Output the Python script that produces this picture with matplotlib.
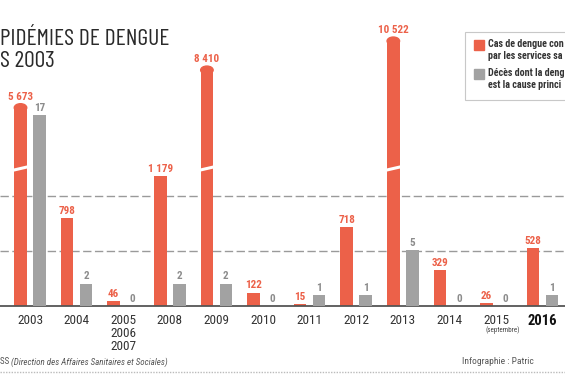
import numpy as np
import matplotlib.pyplot as plt
from matplotlib import font_manager
from matplotlib.patches import Ellipse, Rectangle
from matplotlib.lines import Line2D

W, H = 565, 377


def fx(px):
    return px / W


def fy(py):
    return 1 - py / H


# --- Données ---
annees = ["2003", "2004", "2005\n2006\n2007", "2008", "2009", "2010",
          "2011", "2012", "2013", "2014", "2015", "2016"]
cas = [5673, 798, 46, 1179, 8410, 122, 15, 718, 10522, 329, 26, 528]
deces = [17, 2, 0, 2, 2, 0, 1, 1, 5, 0, 0, 1]
grille_cas = [500, 1000]

ROUGE = "#EC6149"
GRIS = "#A2A2A2"
COUPURE = 1250      # au-dessus : barre coupée et écrasée
ECRASEMENT = 0.125
Y_MAX = 2782


def hauteur_affichee(v):
    return v if v <= COUPURE else COUPURE + (v - COUPURE) * ECRASEMENT


def format_nb(v):
    return f"{v:,}".replace(",", " ")


def choisir(candidats):
    installees = {f.name for f in font_manager.fontManager.ttflist}
    for cand in candidats:
        if cand in installees:
            return cand
    return "DejaVu Sans"


police = choisir(["Roboto Condensed", "Archivo Narrow", "PT Sans Narrow", "Liberation Sans"])
police_titre = choisir(["Barlow Condensed", "Roboto Condensed", "Liberation Sans"])
plt.rcParams["font.family"] = [police, "DejaVu Sans"]

fig = plt.figure(figsize=(W / 100, H / 100), dpi=100)
ax = fig.add_axes([0, fy(306), 1, 306 / H])
ax.set_xlim(-0.644, 11.48)
ax.set_ylim(0, Y_MAX)
ax2 = ax.twinx()
ax2.set_ylim(0, 27.3)

for a in (ax, ax2):
    for s in a.spines.values():
        s.set_visible(False)
ax.set_yticks([])
ax2.set_yticks([])

x = np.arange(len(annees))
LARG = 0.268
DEC = 0.204
px_par_unite = 306 / Y_MAX
dome = 4 / px_par_unite

for g in grille_cas:
    ax.axhline(g, color="#9a9a9a", lw=1.0, ls=(0, (6, 2.5)), zorder=1)

haut = [hauteur_affichee(v) for v in cas]
ax.bar(x - DEC, haut, width=LARG, color=ROUGE, zorder=3)
ax2.bar(x + DEC, deces, width=LARG, color=GRIS, zorder=3)

for i, v in enumerate(cas):
    top = haut[i]
    if v > COUPURE:
        ax.add_patch(Ellipse((i - DEC, top), LARG, 2 * dome, color=ROUGE, zorder=3))
        top += dome
        ax.plot([i - DEC - LARG / 2 - 0.03, i - DEC + LARG / 2 + 0.03],
                [COUPURE - 16, COUPURE + 16], color="white", lw=2.2,
                solid_capstyle="butt", zorder=4)
    ax.annotate(format_nb(v), (i - DEC, top), xytext=(0, 1.5), textcoords="offset points",
                ha="center", va="bottom", color=ROUGE, fontsize=8, fontweight="bold")

for i, d in enumerate(deces):
    ax2.annotate(str(d), (i + DEC, d), xytext=(0, 1.5), textcoords="offset points",
                 ha="center", va="bottom", color="#8c8c8c", fontsize=8, fontweight="bold")

ax.axhline(0, color="#555555", lw=1.3, zorder=6, clip_on=False)

ax.set_xticks(x, annees)
ax.tick_params(axis="x", length=0, pad=6, labelsize=9.5, labelcolor="#333333")
for lab in ax.get_xticklabels():
    lab.set_linespacing(1.0)
dernier = ax.get_xticklabels()[-1]
dernier.set_fontweight("bold")
dernier.set_fontsize(10.5)
dernier.set_color("#111111")
fig.text(fx(503), fy(330), "(septembre)", ha="center", va="center", fontsize=5, color="#444444")

# --- Titre (image recadrée à gauche) ---
fig.text(0, fy(45), "PIDÉMIES DE DENGUE", ha="left", va="baseline",
         fontsize=17, color="#2a2a2a", family=police_titre)
fig.text(0, fy(67), "S 2003", ha="left", va="baseline",
         fontsize=17, color="#2a2a2a", family=police_titre)

# --- Légende (recadrée à droite) ---
fig.add_artist(Rectangle((fx(465), fy(100)), fx(130), (100 - 32) / H,
                         transform=fig.transFigure, facecolor="white",
                         edgecolor="#c8c8c8", lw=0.8))
fig.add_artist(Rectangle((fx(474), fy(50)), fx(10), 10 / H,
                         transform=fig.transFigure, color=ROUGE))
fig.add_artist(Rectangle((fx(474), fy(79)), fx(10), 10 / H,
                         transform=fig.transFigure, color=GRIS))
fig.text(fx(488), fy(39), "Cas de dengue con\npar les services sa",
         ha="left", va="top", fontsize=7.2, fontweight="bold", color="#333333", linespacing=1.2)
fig.text(fx(488), fy(68), "Décès dont la deng\nest la cause princi",
         ha="left", va="top", fontsize=7.2, fontweight="bold", color="#333333", linespacing=1.2)

# --- Pied ---
t_ss = fig.text(0, fy(362), "SS ", ha="left", va="center", fontsize=6.5, color="#555555")
ax.annotate("(Direction des Affaires Sanitaires et Sociales)", xy=(1, 0.5), xycoords=t_ss,
            ha="left", va="center", fontsize=6.5, style="italic", color="#555555",
            annotation_clip=False)
fig.text(fx(462), fy(362), "Infographie : Patric", ha="left", va="center",
         fontsize=6.8, color="#555555")
fig.add_artist(Line2D([0, 1], [fy(372), fy(372)], transform=fig.transFigure,
                      color="#bbbbbb", lw=1, ls=(0, (1, 1))))

fig.savefig("out.png", dpi=100)
